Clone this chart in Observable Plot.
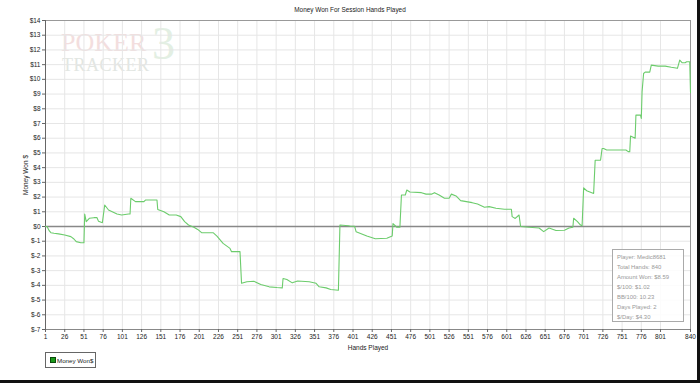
<!DOCTYPE html>
<html>
<head>
<meta charset="utf-8">
<script src="https://cdn.jsdelivr.net/npm/d3@7"></script>
<script src="https://cdn.jsdelivr.net/npm/@observablehq/plot@0.6"></script>
<style>
  body { margin: 0; background: #fff; }
  #wrap { position: relative; width: 700px; height: 383px; overflow: hidden; font-family: "Liberation Sans", Arial, sans-serif; }
  .abs { position: absolute; }
  #title { left: 0; width: 700px; top: 6px; text-align: center; font-size: 6.4px; color: #222; }
  #stats { left: 612px; top: 249px; width: 72px; height: 73px; border: 1px solid #aaa; background: rgba(255,255,255,0.85); font-size: 5.9px; color: #999; box-sizing: border-box; padding: 2px 0 0 4px; line-height: 10px; }
  #legend { left: 45px; top: 352px; width: 51px; height: 16px; border: 1px solid #666; box-sizing: border-box; font-size: 6.2px; color: #222; }
  #legend .sw { position: absolute; left: 4px; top: 4px; width: 4px; height: 4px; background: #1a9a1a; border: 0.5px solid #0a4a0a; }
  #legend .tx { position: absolute; left: 11px; top: 3.5px; white-space: nowrap; }
  #wm1 { left: 61px; top: 34px; font-family: "Liberation Serif", serif; font-size: 26px; line-height: 0.7; color: #f3dede; white-space: nowrap; }
  #wm2 { left: 62px; top: 60px; font-family: "Liberation Serif", serif; font-size: 18px; line-height: 0.6; color: #e2e6e2; white-space: nowrap; letter-spacing: 0.5px; }
  #wm3 { left: 152px; top: 30px; font-family: "Liberation Serif", serif; font-size: 46px; line-height: 0.6; color: #e3efe3; }
  #bordR { left: 697px; top: 0; width: 3px; height: 383px; background: #111; }
  #bordB { left: 0; top: 380px; width: 700px; height: 3px; background: #111; }
</style>
</head>
<body>
<div id="wrap">
  <div id="wm3" class="abs">3</div>
  <div id="wm1" class="abs">POKER</div>
  <div id="wm2" class="abs">TRACKER</div>
  <div id="chart" class="abs" style="left:0;top:0"></div>
  <div id="title" class="abs">Money Won For Session Hands Played</div>
  <div id="stats" class="abs"></div>
  <div id="legend" class="abs"><div class="sw"></div><div class="tx">Money Won$</div></div>
  <div id="bordR" class="abs"></div>
  <div id="bordB" class="abs"></div>
</div>
<script>
const hands = [1,3,6,8,12,18,26,34,38,41,47,51,52,54,58,64,68,70,75,78,83,94,100,109,111,112,118,129,131,144,146,147,155,162,171,177,182,187,194,199,204,219,224,232,241,243,254,256,263,272,281,292,302,309,310,315,322,329,344,353,357,366,372,382,384,395,398,403,405,419,430,445,452,453,458,462,464,469,471,475,490,496,503,507,513,520,526,529,535,541,556,563,572,578,587,598,607,608,612,617,619,630,643,649,656,665,676,682,687,688,693,697,699,701,705,714,716,723,725,727,731,756,759,761,762,768,769,775,776,777,779,781,787,789,798,807,815,823,826,829,833,835,839,840];
const money = [0,0,-0.3,-0.42,-0.46,-0.5,-0.58,-0.69,-0.85,-1.03,-1.1,-1.1,0.85,0.33,0.56,0.6,0.6,0.35,0.26,1.46,1.12,0.85,0.78,0.85,0.85,1.92,1.69,1.69,1.8,1.8,1.8,1.16,1.0,0.78,0.78,0.67,0.33,0.1,-0.05,-0.2,-0.42,-0.42,-0.65,-1.15,-1.49,-1.71,-1.71,-3.86,-3.75,-3.72,-3.94,-4.1,-4.15,-4.17,-3.53,-3.6,-3.83,-3.7,-3.75,-3.86,-4.1,-4.17,-4.28,-4.33,0.1,0.05,0.02,0.02,-0.35,-0.65,-0.83,-0.8,-0.65,0.2,-0.05,-0.05,2.14,2.14,2.48,2.34,2.3,2.2,2.2,2.3,2.14,1.92,1.92,2.2,2.08,1.76,1.62,1.53,1.31,1.35,1.24,1.17,1.17,0.67,0.55,0.78,0,-0.05,-0.1,-0.35,-0.1,-0.27,-0.25,-0.1,-0.05,0.56,0.33,0.1,0.05,2.63,2.43,2.25,4.5,4.5,5.3,5.3,5.2,5.2,5.09,5.09,6.15,6.0,7.57,7.57,7.34,9.15,10.4,10.49,10.49,10.97,10.9,10.9,10.82,10.75,11.31,11.13,11.13,11.2,11.2,9.1];
const xTicks = [1,26,51,76,101,126,151,176,201,226,251,276,301,326,351,376,401,426,451,476,501,526,551,576,601,626,651,676,701,726,751,776,801,840];
const yTicks = d3.range(-7, 15);
const statLines = ["Player: Medic8681","Total Hands: 840","Amount Won: $8.59","$/100: $1.02","BB/100: 10.23","Days Played: 2","$/Day: $4.30"];

const data = hands.map((h, i) => ({hand: h, money: money[i]}));

const chart = Plot.plot({
  width: 700,
  height: 383,
  marginTop: 20,
  marginBottom: 54,
  marginLeft: 45,
  marginRight: 10,
  style: {fontFamily: "Liberation Sans, Arial, sans-serif", fontSize: "6.5px", background: "transparent", color: "#222"},
  x: {domain: [1, 840]},
  y: {domain: [-7, 14]},
  marks: [
    Plot.gridX(xTicks, {stroke: "#e6e6e6", strokeOpacity: 1}),
    Plot.gridY(yTicks, {stroke: "#e6e6e6", strokeOpacity: 1}),
    Plot.frame({stroke: "#999"}),
    Plot.ruleX([1], {stroke: "#666"}),
    Plot.ruleY([-7], {stroke: "#888"}),
    Plot.ruleY([0], {stroke: "#888", strokeWidth: 1.5}),
    Plot.axisX(xTicks, {tickSize: 3, tickPadding: 2, tickFormat: d => String(d), label: "Hands Played", labelAnchor: "center", labelArrow: "none", labelOffset: 20, stroke: "#666"}),
    Plot.axisY(yTicks, {tickSize: 3, tickPadding: 2, tickFormat: d => "$" + d, label: "Money Won $", labelAnchor: "center", labelArrow: "none", labelOffset: 22, stroke: "#666"}),
    Plot.line(data, {x: "hand", y: "money", stroke: "#6ccc6c", strokeWidth: 1.1})
  ]
});
document.getElementById("chart").appendChild(chart);
document.getElementById("stats").innerHTML = statLines.map(s => `<div>${s}</div>`).join("");
</script>
</body>
</html>
